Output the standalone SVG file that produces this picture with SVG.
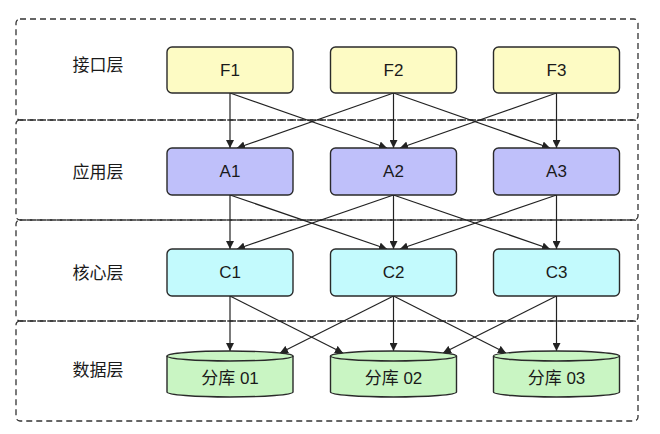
<svg xmlns="http://www.w3.org/2000/svg" width="660" height="434" viewBox="0 0 660 434">
<style>
.layer{fill:none;stroke:#333;stroke-width:1.3;stroke-dasharray:6 4}
.lbl{font-family:"Liberation Sans","Noto Sans CJK SC",sans-serif;font-size:17px;fill:#1a1a1a;text-anchor:middle}
.node{stroke:#2a2a2a;stroke-width:1.4}
.f{fill:#FDFBC4}
.a{fill:#BFC0FA}
.c{fill:#C3FAFD}
.d{fill:#C9F5C3}
.edge{stroke:#222;stroke-width:1.2;fill:none;marker-end:url(#arr)}
</style>
<defs>
<marker id="arr" viewBox="0 0 10 10" refX="10" refY="5" markerWidth="8" markerHeight="8" markerUnits="userSpaceOnUse" orient="auto">
<path d="M0,0 L10,5 L0,10 z" fill="#222"/>
</marker>
</defs>
<rect width="660" height="434" fill="#fff"/>
<g id="layers">
<rect class="layer" x="16" y="19" width="622" height="101" rx="4"/>
<rect class="layer" x="16" y="120" width="622" height="100" rx="4"/>
<rect class="layer" x="16" y="220" width="622" height="101" rx="4"/>
<rect class="layer" x="16" y="321" width="622" height="100" rx="4"/>
<text class="lbl" x="98" y="71">接口层</text>
<text class="lbl" x="98" y="178">应用层</text>
<text class="lbl" x="98" y="279">核心层</text>
<text class="lbl" x="98" y="376">数据层</text>
</g>
<g id="connectors">
<line class="edge" x1="230" y1="93" x2="230" y2="148"/>
<line class="edge" x1="230" y1="93" x2="387" y2="148"/>
<line class="edge" x1="393.5" y1="93" x2="237" y2="148"/>
<line class="edge" x1="393.5" y1="93" x2="393.5" y2="148"/>
<line class="edge" x1="393.5" y1="93" x2="550" y2="148"/>
<line class="edge" x1="556.5" y1="93" x2="400" y2="148"/>
<line class="edge" x1="556.5" y1="93" x2="556.5" y2="148"/>
<line class="edge" x1="230" y1="195" x2="230" y2="249"/>
<line class="edge" x1="230" y1="195" x2="387" y2="249"/>
<line class="edge" x1="393.5" y1="195" x2="237" y2="249"/>
<line class="edge" x1="393.5" y1="195" x2="393.5" y2="249"/>
<line class="edge" x1="393.5" y1="195" x2="550" y2="249"/>
<line class="edge" x1="556.5" y1="195" x2="400" y2="249"/>
<line class="edge" x1="556.5" y1="195" x2="556.5" y2="249"/>
<line class="edge" x1="230" y1="296" x2="230" y2="351"/>
<line class="edge" x1="230" y1="296" x2="343" y2="353"/>
<line class="edge" x1="393.5" y1="296" x2="280" y2="353"/>
<line class="edge" x1="393.5" y1="296" x2="393.5" y2="351"/>
<line class="edge" x1="393.5" y1="296" x2="506" y2="353"/>
<line class="edge" x1="556.5" y1="296" x2="443" y2="353"/>
<line class="edge" x1="556.5" y1="296" x2="556.5" y2="351"/>
</g>
<g id="F1"><rect class="node f" x="167" y="47" width="126" height="46" rx="5"/><text class="lbl" x="230" y="76">F1</text></g>
<g id="F2"><rect class="node f" x="330.5" y="47" width="126" height="46" rx="5"/><text class="lbl" x="393.5" y="76">F2</text></g>
<g id="F3"><rect class="node f" x="493.5" y="47" width="126" height="46" rx="5"/><text class="lbl" x="556.5" y="76">F3</text></g>
<g id="A1"><rect class="node a" x="167" y="148" width="126" height="47" rx="5"/><text class="lbl" x="230" y="177">A1</text></g>
<g id="A2"><rect class="node a" x="330.5" y="148" width="126" height="47" rx="5"/><text class="lbl" x="393.5" y="177">A2</text></g>
<g id="A3"><rect class="node a" x="493.5" y="148" width="126" height="47" rx="5"/><text class="lbl" x="556.5" y="177">A3</text></g>
<g id="C1"><rect class="node c" x="167" y="249" width="126" height="47" rx="5"/><text class="lbl" x="230" y="278">C1</text></g>
<g id="C2"><rect class="node c" x="330.5" y="249" width="126" height="47" rx="5"/><text class="lbl" x="393.5" y="278">C2</text></g>
<g id="C3"><rect class="node c" x="493.5" y="249" width="126" height="47" rx="5"/><text class="lbl" x="556.5" y="278">C3</text></g>
<g id="DB1"><path class="node d" d="M167,356 a63,5 0 0,1 126,0 v36 a63,5 0 0,1 -126,0 z"/><path class="node" fill="none" d="M167,356 a63,5 0 0,0 126,0"/><text class="lbl" x="230" y="384">分库 01</text></g>
<g id="DB2"><path class="node d" d="M330.5,356 a63,5 0 0,1 126,0 v36 a63,5 0 0,1 -126,0 z"/><path class="node" fill="none" d="M330.5,356 a63,5 0 0,0 126,0"/><text class="lbl" x="393.5" y="384">分库 02</text></g>
<g id="DB3"><path class="node d" d="M493.5,356 a63,5 0 0,1 126,0 v36 a63,5 0 0,1 -126,0 z"/><path class="node" fill="none" d="M493.5,356 a63,5 0 0,0 126,0"/><text class="lbl" x="556.5" y="384">分库 03</text></g>
</svg>
